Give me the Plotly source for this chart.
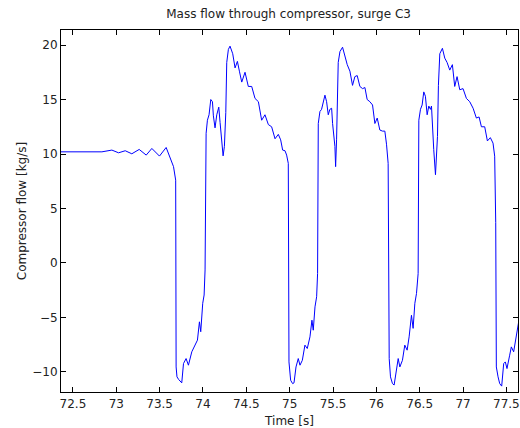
import plotly.graph_objects as go

# time [s] and compressor mass flow [kg/s]
time_s = [
    72.36, 72.834, 72.949, 73.026, 73.103, 73.179, 73.264, 73.345, 73.41, 73.498, 73.575,
    73.62, 73.66, 73.685, 73.69, 73.70, 73.72, 73.755,
    73.775, 73.805, 73.832, 73.871, 73.909, 73.936, 73.959, 73.974, 73.997, 74.013, 74.024,
    74.036, 74.051, 74.070, 74.09, 74.109, 74.12, 74.139, 74.159, 74.182, 74.197, 74.216,
    74.232, 74.247, 74.263, 74.274, 74.293, 74.312,
    74.343, 74.370, 74.397, 74.42, 74.447, 74.485, 74.523, 74.562, 74.60, 74.639, 74.677,
    74.715, 74.754, 74.792, 74.831, 74.869, 74.896, 74.919, 74.946, 74.965, 74.984,
    74.992, 75.011, 75.034, 75.05, 75.073, 75.099, 75.119, 75.146, 75.176, 75.203, 75.234,
    75.257, 75.272, 75.292, 75.311, 75.322,
    75.33, 75.349, 75.368, 75.387, 75.407, 75.426, 75.445, 75.464, 75.484, 75.495, 75.51,
    75.522, 75.53, 75.541, 75.56, 75.58, 75.61,
    75.637, 75.664, 75.695, 75.725, 75.752, 75.779, 75.81, 75.841, 75.868, 75.894, 75.925,
    75.956, 75.983, 76.01, 76.04, 76.071, 76.098, 76.117, 76.136,
    76.148, 76.163, 76.186, 76.205, 76.225, 76.252, 76.271, 76.301, 76.328, 76.355, 76.378,
    76.405, 76.424, 76.444, 76.463, 76.482,
    76.49, 76.509, 76.528, 76.547, 76.566, 76.586, 76.605, 76.624, 76.636, 76.647, 76.662,
    76.682, 76.693, 76.705, 76.716, 76.732, 76.762,
    76.789, 76.816, 76.847, 76.877, 76.904, 76.931, 76.962, 77.0, 77.039, 77.077, 77.116,
    77.154, 77.185, 77.212, 77.25, 77.281, 77.315, 77.346, 77.365,
    77.377, 77.384, 77.404, 77.423, 77.446, 77.469, 77.488, 77.507, 77.538, 77.557, 77.584,
    77.607, 77.626, 77.645,
]
flow_kgs = [
    10.2, 10.2, 10.36, 10.11, 10.30, 10.02, 10.42, 9.90, 10.51, 9.81, 10.60,
    9.75, 8.84, 7.6, -9.54, -10.45, -10.7, -11.0,
    -9.23, -8.77, -9.38, -8.15, -7.54, -7.08, -5.4, -6.31, -3.7, -2.94, -0.64,
    11.9, 13.1, 13.6, 15.0, 14.8, 13.5, 12.4, 13.6, 14.3, 12.9, 11.0,
    9.83, 10.7, 13.8, 18.4, 19.6, 19.9,
    19.2, 17.9, 18.5, 17.6, 16.6, 17.5, 16.2, 16.2, 15.1, 14.8, 13.1,
    13.6, 12.7, 12.5, 11.4, 11.8, 11.3, 10.36, 10.3, 9.9, 9.14,
    -9.08, -10.76, -11.07, -11.0, -9.54, -8.77, -9.38, -8.93, -7.54, -7.85, -6.78,
    -5.25, -6.17, -4.03, -3.1, -0.97,
    12.8, 13.9, 14.1, 14.7, 15.4, 14.8, 13.6, 14.1, 14.2, 12.8, 11.6,
    10.7, 8.84, 11.3, 18.4, 19.4, 19.8,
    18.9, 18.2, 17.6, 16.3, 17.1, 17.2, 16.2, 16.0, 16.1, 15.0, 14.8,
    14.5, 12.8, 13.3, 12.2, 12.1, 12.1, 10.9, 9.14,
    -8.77, -10.45, -11.07, -11.2, -10.15, -8.77, -9.54, -8.93, -7.54, -8.0, -6.78,
    -4.8, -6.0, -3.7, -2.8, -0.97,
    13.1, 14.1, 14.5, 15.7, 15.3, 13.6, 14.4, 14.1, 14.4, 12.2, 10.4,
    8.1, 9.8, 11.6, 16.3, 19.2, 19.7,
    18.8, 18.4, 17.7, 18.2, 16.2, 17.1, 15.9, 16.0, 15.1, 14.8, 14.2,
    13.3, 13.4, 12.5, 12.5, 11.2, 11.5, 11.0, 9.8,
    3.7, -9.54, -10.45, -11.07, -11.3, -9.23, -9.08, -9.69, -8.46, -7.7, -8.15,
    -6.93, -5.86, -5.25,
]

x_ticks = [72.5, 73, 73.5, 74, 74.5, 75, 75.5, 76, 76.5, 77, 77.5]
x_labels = ["72.5", "73", "73.5", "74", "74.5", "75", "75.5", "76", "76.5", "77", "77.5"]
y_ticks = [-10, -5, 0, 5, 10, 15, 20]

fig = go.Figure(
    data=[go.Scatter(x=time_s, y=flow_kgs, mode='lines',
                     line=dict(color='#0000ff', width=1), showlegend=False)]
)

axis_style = dict(
    showgrid=False, zeroline=False, automargin=False,
    showline=True, linecolor='black', linewidth=1, mirror='ticks',
    ticks='inside', ticklen=5, tickcolor='black',
    tickfont=dict(size=12, color='#222222'),
)

fig.update_layout(
    width=520, height=428,
    margin=dict(l=61, r=2, t=30, b=36),
    plot_bgcolor='white', paper_bgcolor='white',
    font=dict(family='DejaVu Sans, Arial, sans-serif', size=12, color='#222222'),
    title=dict(text='Mass flow through compressor, surge C3', x=0.555, xanchor='center',
               y=0.968, yanchor='middle', font=dict(size=12)),
    xaxis=dict(axis_style, range=[72.362, 77.634], tickvals=x_ticks, ticktext=x_labels,
               ticklabelstandoff=1,
               title=dict(text='Time [s]', standoff=6, font=dict(size=12))),
    yaxis=dict(axis_style, range=[-11.84, 21.38], tickvals=y_ticks,
               title=dict(text='Compressor flow [kg/s]', standoff=3, font=dict(size=12))),
)

# drop the browser's default body margin so the figure sits at the window origin
fig.write_html("out.html", config={'displayModeBar': False},
               post_script="document.body.style.margin = '0px';")
